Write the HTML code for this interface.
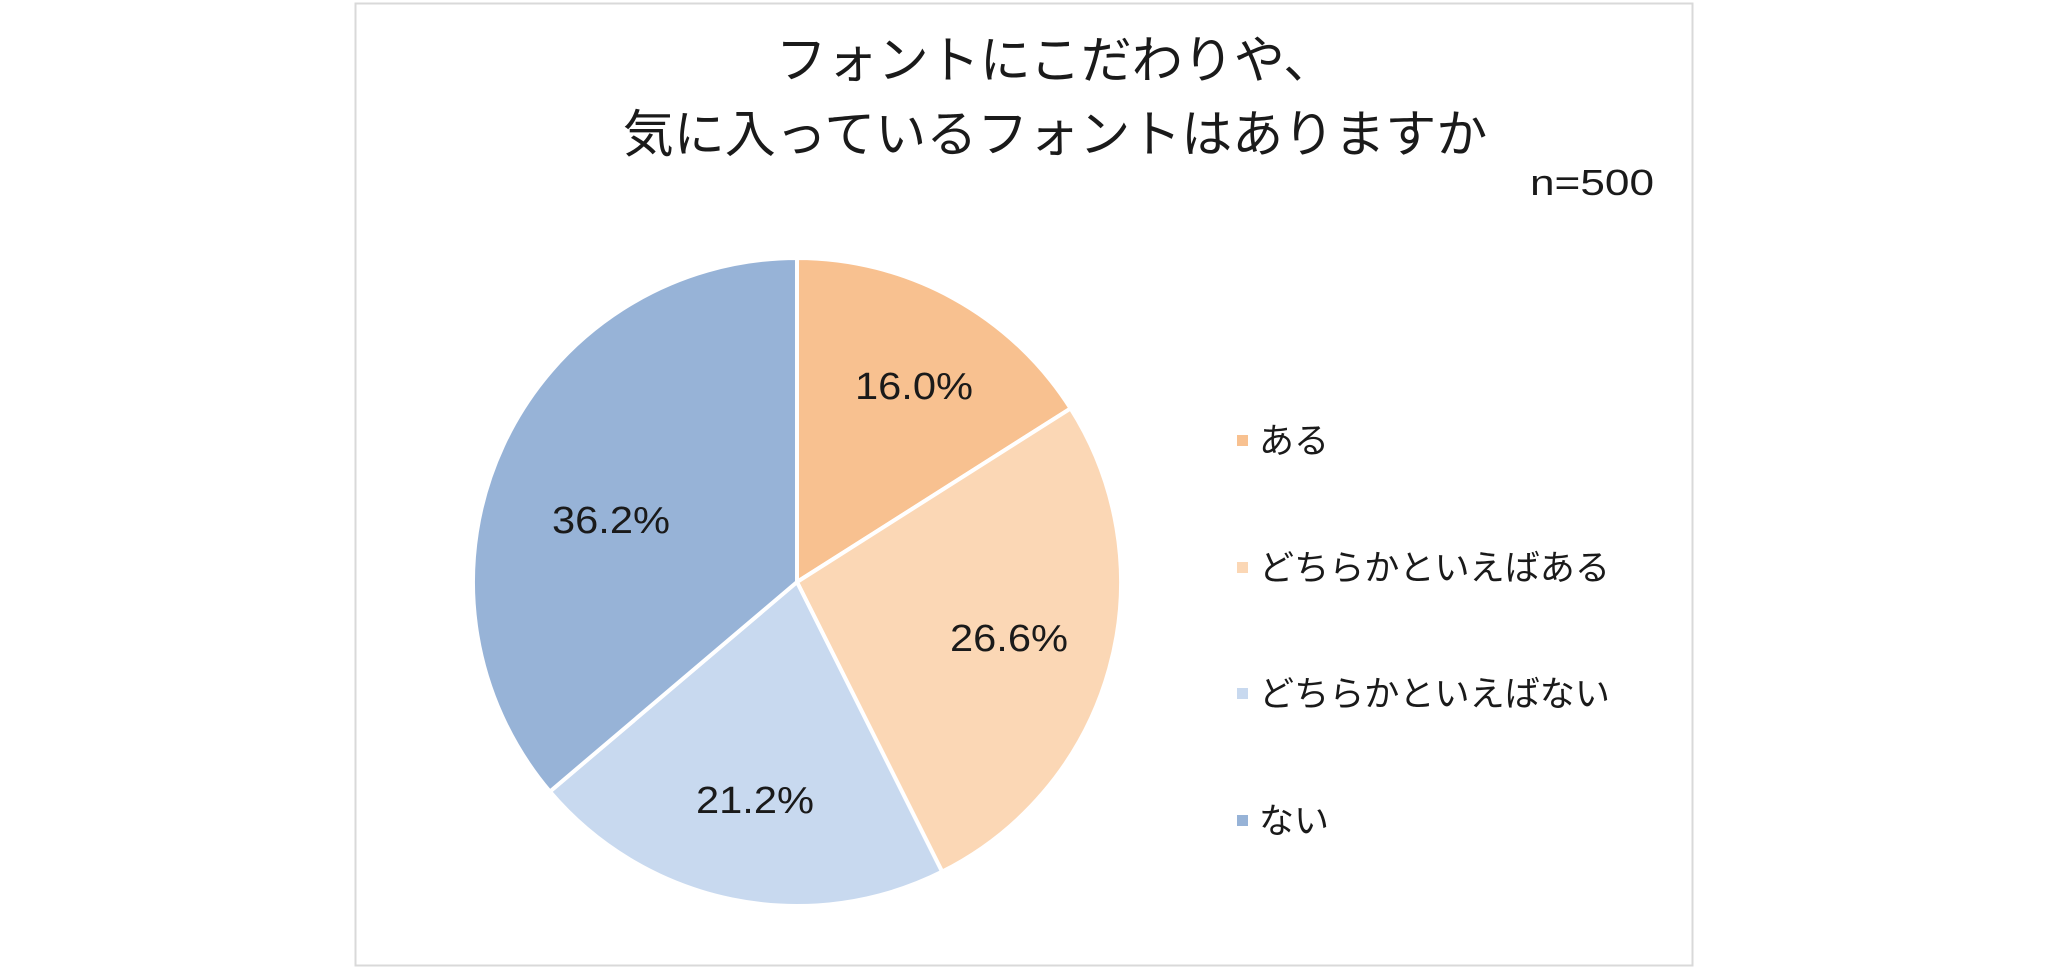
<!DOCTYPE html>
<html><head><meta charset="utf-8"><style>
body{margin:0;background:#fff;}
svg{display:block}
text{font-family:"Liberation Sans","Noto Sans CJK JP",sans-serif;fill:#1a1a1a}
</style></head><body>
<svg width="2048" height="967" viewBox="0 0 2048 967">
<rect x="355.5" y="3.5" width="1337" height="962" fill="#fff" stroke="#d9d9d9" stroke-width="2"/>
<text x="1055" y="78" font-size="51" text-anchor="middle">フォントにこだわりや、</text>
<text x="1055" y="152" font-size="51" text-anchor="middle">気に入っているフォントはありますか</text>
<text x="1654" y="195" font-size="36" text-anchor="end" textLength="124" lengthAdjust="spacingAndGlyphs">n=500</text>
<g stroke="#fff" stroke-width="4" stroke-linejoin="round">
<path d="M797,582 L797,258 A324,324 0 0 1 1070.6,408.4 Z" fill="#F8C190"/>
<path d="M797,582 L1070.6,408.4 A324,324 0 0 1 942.1,871.7 Z" fill="#FBD7B5"/>
<path d="M797,582 L942.1,871.7 A324,324 0 0 1 549.9,791.6 Z" fill="#C8D9EF"/>
<path d="M797,582 L549.9,791.6 A324,324 0 0 1 797,258 Z" fill="#97B3D7"/>
</g>
<g font-size="38" text-anchor="middle">
<text x="914" y="399" textLength="118" lengthAdjust="spacingAndGlyphs">16.0%</text>
<text x="1009" y="651" textLength="118" lengthAdjust="spacingAndGlyphs">26.6%</text>
<text x="755" y="813" textLength="118" lengthAdjust="spacingAndGlyphs">21.2%</text>
<text x="611" y="533" textLength="118" lengthAdjust="spacingAndGlyphs">36.2%</text>
</g>
<rect x="1237" y="435" width="11" height="11" fill="#F8C190"/>
<rect x="1237" y="562" width="11" height="11" fill="#FBD7B5"/>
<rect x="1237" y="688" width="11" height="11" fill="#C8D9EF"/>
<rect x="1237" y="815" width="11" height="11" fill="#97B3D7"/>
<g font-size="35">
<text x="1259" y="453" textLength="70" lengthAdjust="spacingAndGlyphs">ある</text>
<text x="1259" y="580" textLength="351" lengthAdjust="spacingAndGlyphs">どちらかといえばある</text>
<text x="1259" y="706" textLength="351" lengthAdjust="spacingAndGlyphs">どちらかといえばない</text>
<text x="1259" y="833" textLength="70" lengthAdjust="spacingAndGlyphs">ない</text>
</g>
</svg>
</body></html>
